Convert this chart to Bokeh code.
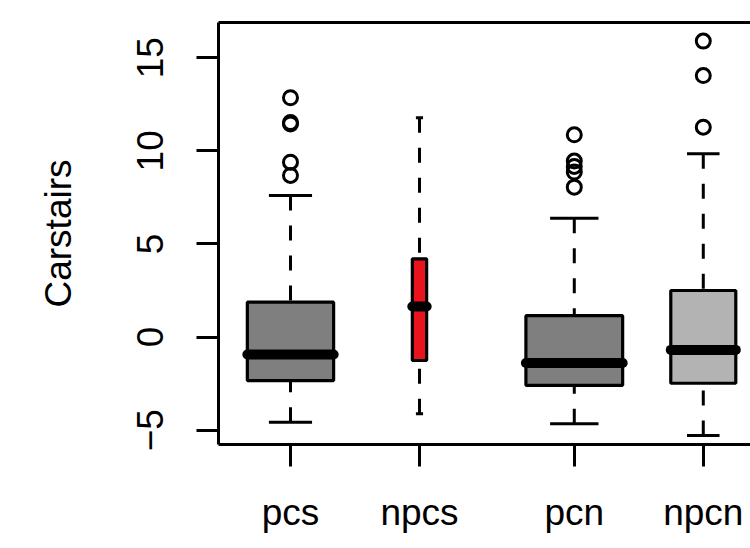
import numpy as np
from bokeh.plotting import figure
from bokeh.models import Range1d, FixedTicker, LinearAxis, ColumnDataSource
from bokeh.embed import file_html
from bokeh.resources import INLINE

# ---- data ----
groups = ["pcs", "npcs", "pcn", "npcn"]
positions = [1.0, 2.0, 3.2, 4.2]
box_widths = [0.669, 0.111, 0.750, 0.504]     # varwidth boxes (relative to group size)
lower_whisker = [-4.58, -4.12, -4.66, -5.29]
q1 = [-2.34, -1.26, -2.59, -2.48]
median = [-0.94, 1.64, -1.39, -0.69]
q3 = [1.87, 4.20, 1.15, 2.50]
upper_whisker = [7.60, 11.77, 6.38, 9.84]
box_colors = ["#7F7F7F", "#E8131C", "#7F7F7F", "#B3B3B3"]

outlier_group = ["pcs", "pcs", "pcs", "pcs", "pcs",
                 "pcn", "pcn", "pcn", "pcn", "pcn",
                 "npcn", "npcn", "npcn"]
outlier_value = [12.85, 11.52, 11.44, 9.39, 8.68,
                 10.86, 9.45, 9.16, 8.86, 8.05,
                 15.89, 14.04, 11.27]

y_ticks = [-5, 0, 5, 10, 15]
y_label = "Carstairs"

FONT = "Liberation Sans"
FS = "37px"
LW = 3

pos = np.array(positions)
w = np.array(box_widths)
xmap = dict(zip(groups, positions))

p = figure(width=750, height=540, output_backend="svg", toolbar_location=None,
           x_range=Range1d(0.442, 4.566), y_range=Range1d(-5.77, 16.89),
           min_border_left=218, min_border_top=22, min_border_right=0,
           min_border_bottom=96)
p.outline_line_color = None
p.background_fill_color = "white"
p.border_fill_color = "white"
p.xgrid.visible = False
p.ygrid.visible = False

# axes
for ax in (p.xaxis[0], p.yaxis[0]):
    ax.axis_line_width = LW
    ax.axis_line_color = "black"
    ax.major_tick_line_width = LW
    ax.major_tick_line_color = "black"
    ax.major_tick_out = 22
    ax.major_tick_in = 0
    ax.minor_tick_line_color = None
    ax.major_label_text_font = FONT
    ax.major_label_text_font_size = FS
    ax.major_label_text_color = "black"

p.xaxis.ticker = FixedTicker(ticks=positions)
p.xaxis.major_label_overrides = {float(x): g for x, g in zip(positions, groups)}
p.xaxis.major_label_standoff = 25

p.yaxis.ticker = FixedTicker(ticks=y_ticks)
p.yaxis.major_label_orientation = "parallel"
p.yaxis.major_label_standoff = 33
p.yaxis.axis_label = y_label
p.yaxis.axis_label_text_font = FONT
p.yaxis.axis_label_text_font_size = FS
p.yaxis.axis_label_text_font_style = "normal"
p.yaxis.axis_label_text_color = "black"
p.yaxis.axis_label_standoff = 56

# top frame line (plain axis line, no ticks or labels)
top = LinearAxis(ticker=FixedTicker(ticks=[]), axis_line_width=LW,
                 axis_line_color="black", major_tick_line_color=None,
                 minor_tick_line_color=None, major_label_text_font_size="0px",
                 major_label_standoff=0)
p.add_layout(top, "above")

# whiskers (from whisker end towards the box)
p.segment(x0=pos, x1=pos, y0=upper_whisker, y1=q3, line_color="black",
          line_width=3, line_dash="15 15")
p.segment(x0=pos, x1=pos, y0=lower_whisker, y1=q1, line_color="black",
          line_width=3, line_dash="15 15")
# staples
p.segment(x0=pos - w / 4, x1=pos + w / 4, y0=upper_whisker, y1=upper_whisker,
          line_color="black", line_width=3)
p.segment(x0=pos - w / 4, x1=pos + w / 4, y0=lower_whisker, y1=lower_whisker,
          line_color="black", line_width=3)
# boxes
p.vbar(x=pos, width=w, bottom=q1, top=q3, fill_color=box_colors,
       line_color="black", line_width=3.2)
# medians
p.segment(x0=pos - w / 2, x1=pos + w / 2, y0=median, y1=median,
          line_color="black", line_width=10, line_cap="round")
# outliers
src = ColumnDataSource(dict(x=[xmap[g] for g in outlier_group], y=outlier_value))
p.scatter("x", "y", source=src, size=14, marker="circle", fill_color=None,
          line_color="black", line_width=3)

open("out.html", "w").write(file_html(p, INLINE))
